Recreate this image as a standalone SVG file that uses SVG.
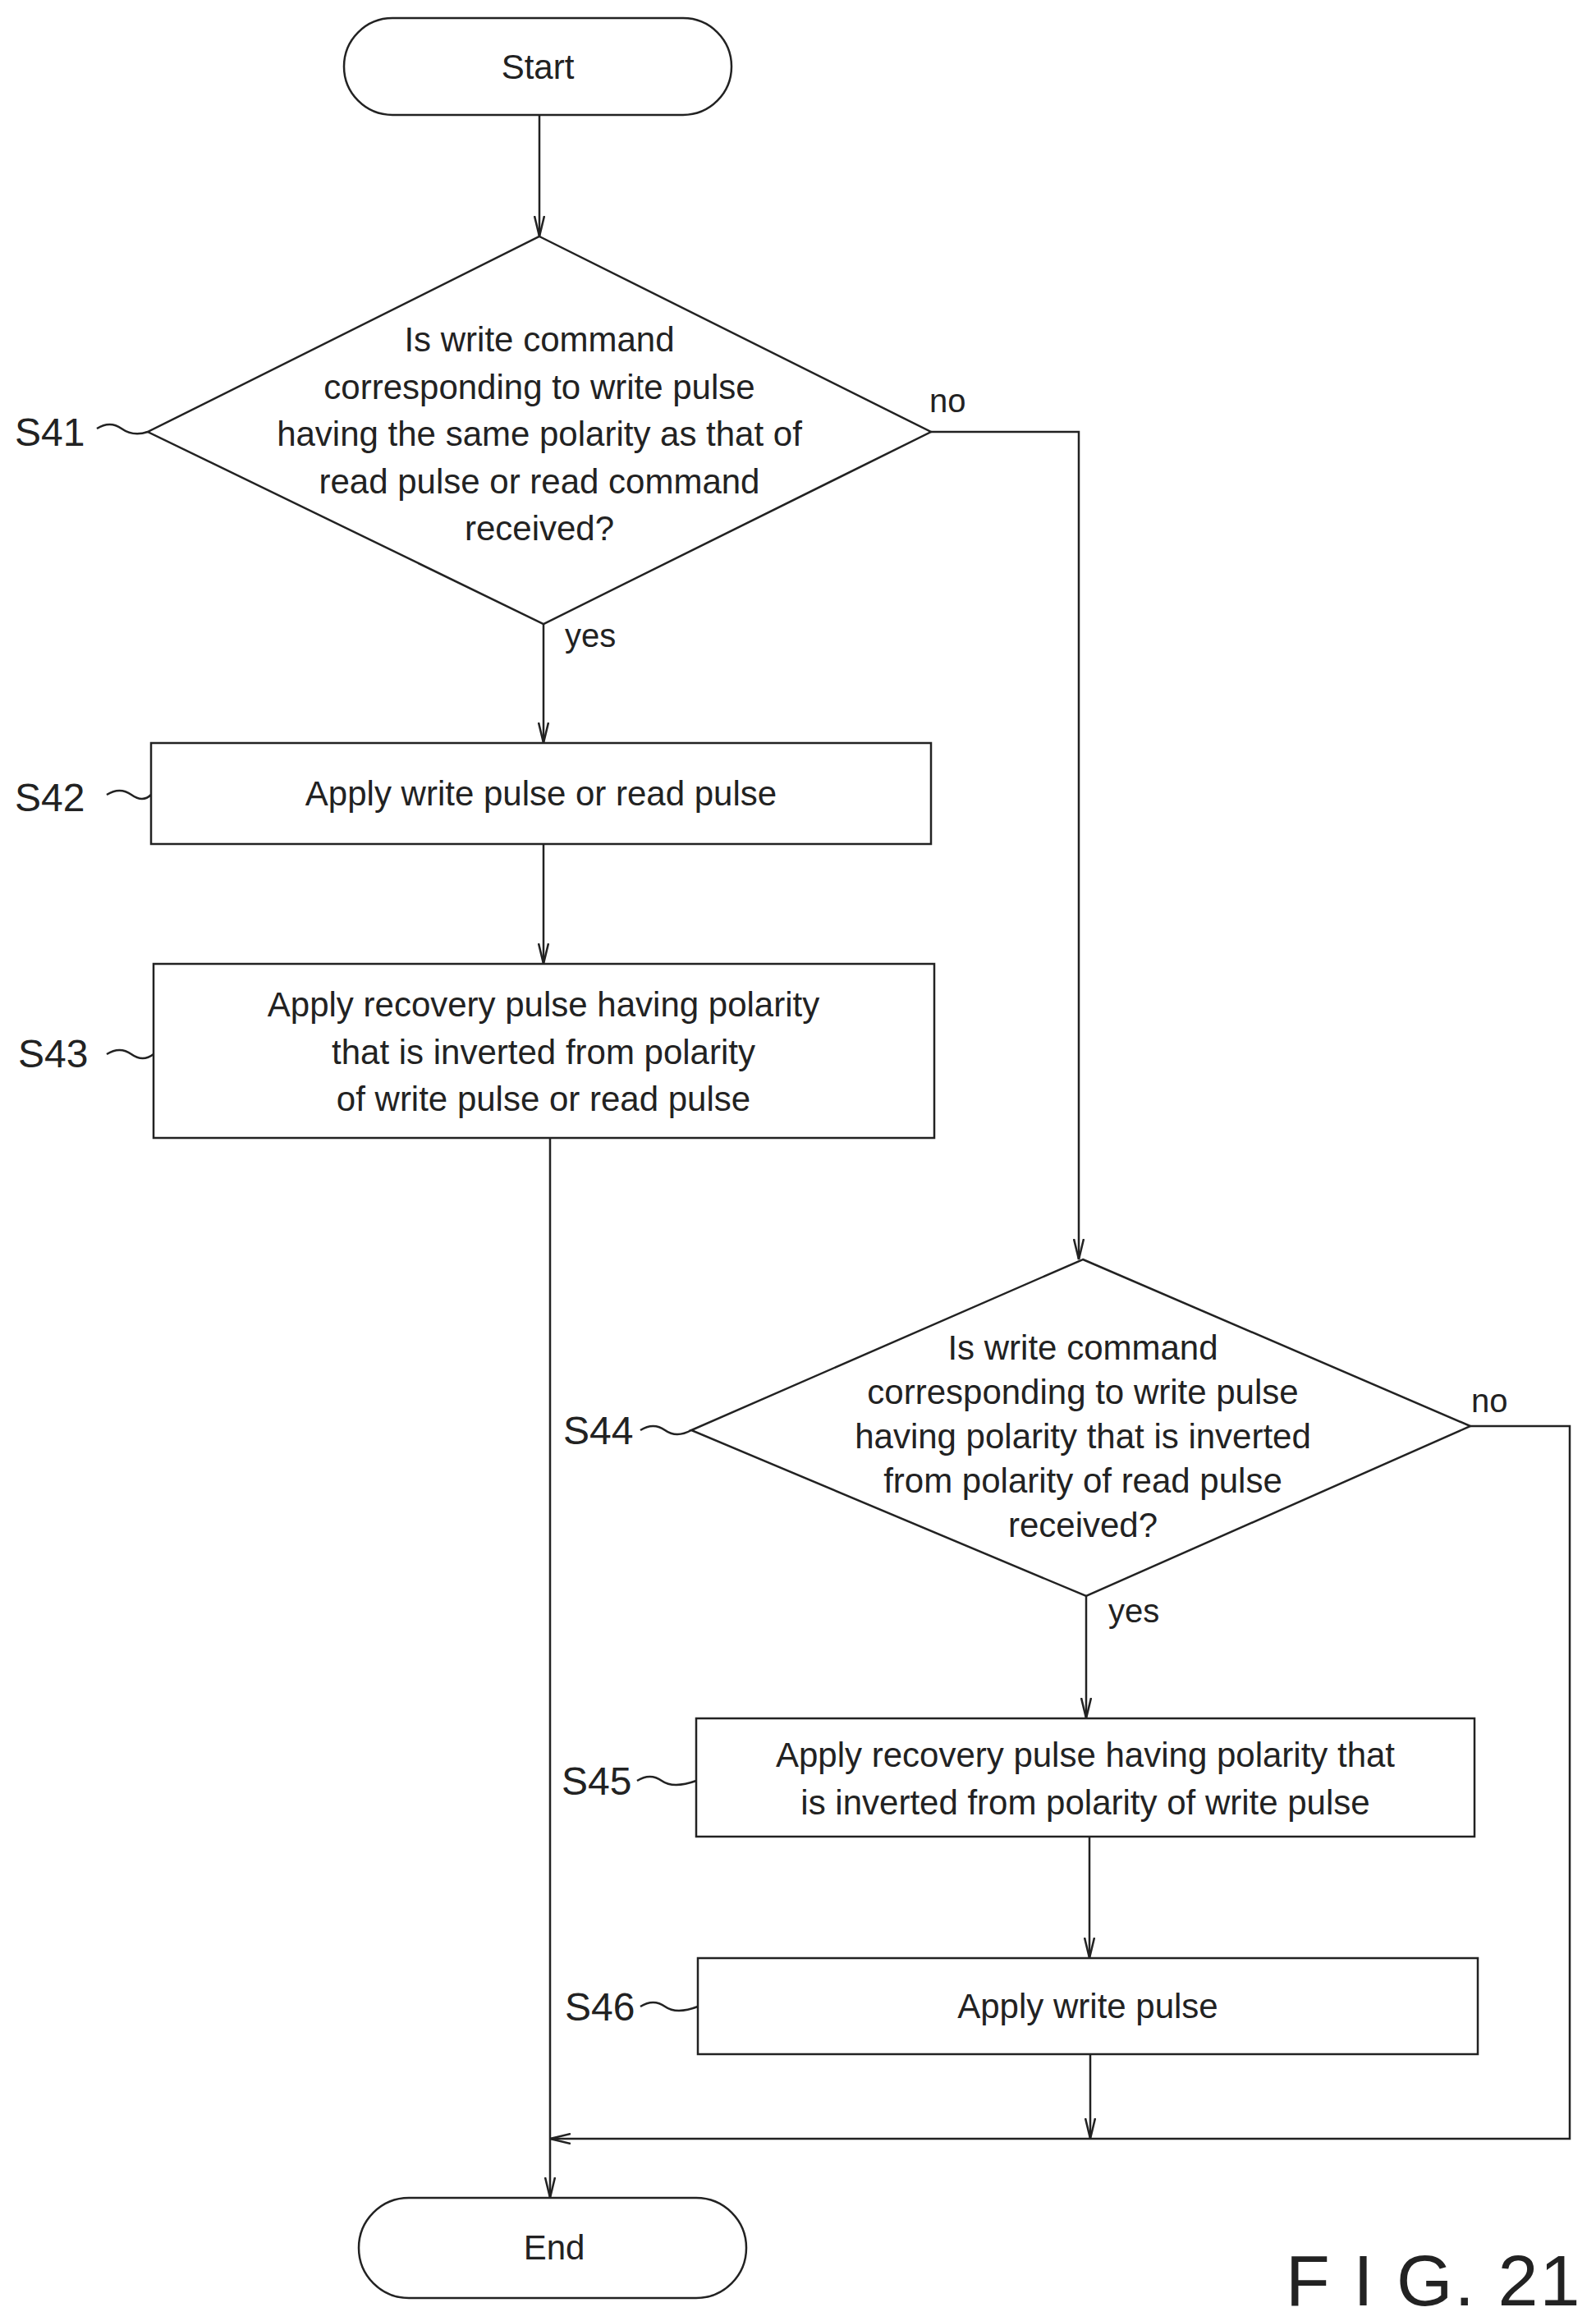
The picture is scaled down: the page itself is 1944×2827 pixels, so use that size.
<svg xmlns="http://www.w3.org/2000/svg" width="1944" height="2827" viewBox="0 0 1944 2827">
<style>
.s{fill:none;stroke:#222;stroke-width:2.5}
.b{fill:#fff;stroke:#222;stroke-width:2.5}
text{font-family:"Liberation Sans",Arial,sans-serif;fill:#222;font-size:42px;text-anchor:middle}
.l{font-size:48px;text-anchor:start}
</style>
<defs><marker id="a" markerWidth="14" markerHeight="26" refX="7" refY="25" orient="0" markerUnits="userSpaceOnUse" viewBox="0 0 14 26"><path d="M1,0 L7,25 L13,0" fill="none" stroke="#222" stroke-width="2.5"/></marker>
<marker id="h" markerWidth="26" markerHeight="14" refX="1" refY="7" orient="0" markerUnits="userSpaceOnUse" viewBox="0 0 26 14"><path d="M26,1 L1,7 L26,13" fill="none" stroke="#222" stroke-width="2.5"/></marker></defs>
<rect width="1944" height="2827" fill="#fff"/>
<g id="connectors" class="s">
<path d="M657,140 V288" marker-end="url(#a)"/>
<path d="M662,760 V905" marker-end="url(#a)"/>
<path d="M662,1028 V1174" marker-end="url(#a)"/>
<path d="M670,1386 V2677" marker-end="url(#a)"/>
<path d="M1134,526 H1314 V1534" marker-end="url(#a)"/>
<path d="M1323,1944 V2093" marker-end="url(#a)"/>
<path d="M1327,2237 V2385" marker-end="url(#a)"/>
<path d="M1328,2502 V2605" marker-end="url(#a)"/>
<path d="M1791,1737 H1912 V2605 H670" marker-end="url(#h)"/>
<path d="M118,522 q16,-10 30,0 t32,4"/>
<path d="M130,968 q16,-10 30,0 t24,0"/>
<path d="M130,1284 q16,-10 30,0 t27,0"/>
<path d="M780,1742 q16,-10 30,0 t32,0"/>
<path d="M776,2169 q16,-10 30,0 t42,0"/>
<path d="M780,2444 q16,-10 30,0 t40,0"/>
</g>
<g id="start"><rect class="b" x="419" y="22" width="472" height="118" rx="59"/><text x="655" y="96">Start</text></g>
<g id="s41"><path class="b" d="M657,288 L1134,526 L662,760 L180,526 Z"/>
<text x="657" y="428">Is write command</text><text x="657" y="486">corresponding to write pulse</text><text x="657" y="543">having the same polarity as that of</text><text x="657" y="601">read pulse or read command</text><text x="657" y="658">received?</text>
<text class="l" x="18" y="543">S41</text><text class="l" x="1132" y="502" style="font-size:40px">no</text><text class="l" x="688" y="788" style="font-size:40px">yes</text></g>
<g id="s42"><rect class="b" x="184" y="905" width="950" height="123"/><text x="659" y="981">Apply write pulse or read pulse</text><text class="l" x="18" y="988">S42</text></g>
<g id="s43"><rect class="b" x="187" y="1174" width="951" height="212"/><text x="662" y="1238">Apply recovery pulse having polarity</text><text x="662" y="1296">that is inverted from polarity</text><text x="662" y="1353">of write pulse or read pulse</text><text class="l" x="22" y="1300">S43</text></g>
<g id="s44"><path class="b" d="M1319,1534 L1791,1737 L1323,1944 L842,1742 Z"/>
<text x="1319" y="1656">Is write command</text><text x="1319" y="1710">corresponding to write pulse</text><text x="1319" y="1764">having polarity that is inverted</text><text x="1319" y="1818">from polarity of read pulse</text><text x="1319" y="1872">received?</text>
<text class="l" x="686" y="1759">S44</text><text class="l" x="1792" y="1720" style="font-size:40px">no</text><text class="l" x="1350" y="1976" style="font-size:40px">yes</text></g>
<g id="s45"><rect class="b" x="848" y="2093" width="948" height="144"/><text x="1322" y="2152">Apply recovery pulse having polarity that</text><text x="1322" y="2210">is inverted from polarity of write pulse</text><text class="l" x="684" y="2186">S45</text></g>
<g id="s46"><rect class="b" x="850" y="2385" width="950" height="117"/><text x="1325" y="2458">Apply write pulse</text><text class="l" x="688" y="2461">S46</text></g>
<g id="end"><rect class="b" x="437" y="2677" width="472" height="122" rx="61"/><text x="675" y="2752">End</text></g>
<text class="l" x="1566" y="2808" style="font-size:88px;letter-spacing:2px">F I G. 21</text>
</svg>
